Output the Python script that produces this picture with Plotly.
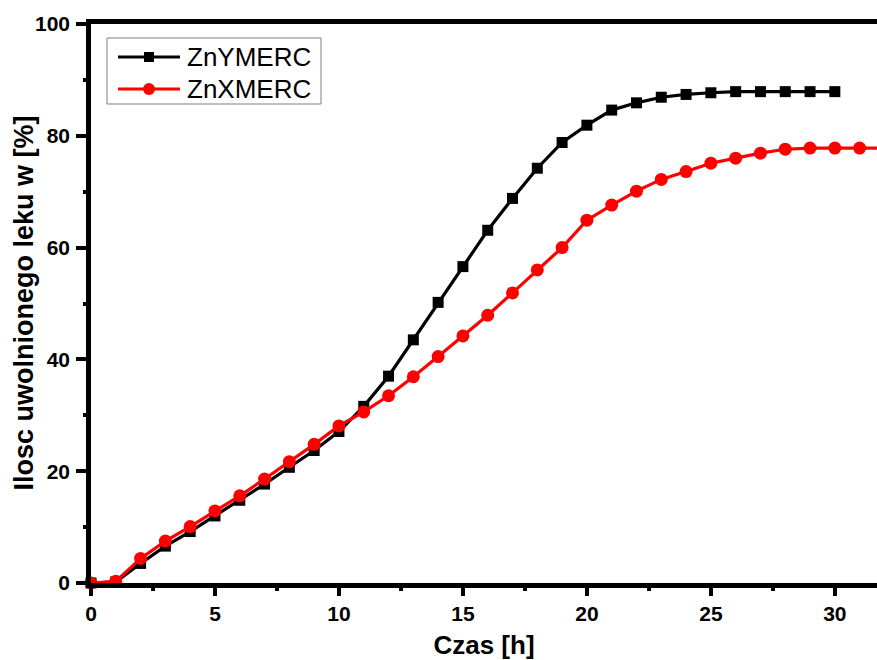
import plotly.graph_objects as go

# Release time [h]
hours_y = list(range(0, 31))
hours_x = list(range(0, 33))

# Cumulative drug release [%]
znymerc = [0, 0.2, 3.5, 6.6, 9.2, 12.0, 14.8, 17.7, 20.7, 23.7,
           27.1, 31.6, 37.0, 43.5, 50.2, 56.6, 63.1, 68.8, 74.2, 78.8,
           81.9, 84.6, 85.9, 86.9, 87.4, 87.7, 87.9, 87.9, 87.9, 87.9, 87.9]
znxmerc = [0, 0.3, 4.4, 7.5, 10.1, 12.9, 15.6, 18.6, 21.7, 24.8,
           28.1, 30.6, 33.5, 36.9, 40.5, 44.2, 47.9, 51.9, 56.0, 60.0,
           64.9, 67.6, 70.1, 72.2, 73.6, 75.1, 76.0, 76.9, 77.6, 77.8,
           77.8, 77.8, 77.8]

series_names = ["ZnYMERC", "ZnXMERC"]
series_colors = ["#000000", "#ff0000"]
x_title = "Czas [h]"
y_title = "Ilosc uwolnionego leku w [%]"

FONT = "Arial, 'Liberation Sans', sans-serif"

fig = go.Figure()
fig.add_trace(go.Scatter(
    x=hours_y, y=znymerc, name=series_names[0], mode="lines+markers",
    line=dict(color=series_colors[0], width=3.2),
    marker=dict(symbol="square", size=11, color=series_colors[0]),
    cliponaxis=False, showlegend=False,
))
fig.add_trace(go.Scatter(
    x=hours_x, y=znxmerc, name=series_names[1], mode="lines+markers",
    line=dict(color=series_colors[1], width=3.2),
    marker=dict(symbol="circle", size=13, color=series_colors[1]),
    cliponaxis=False, showlegend=False,
))

# Legend drawn inside the plot, upper-left
W, H = 786.0, 559.0  # plot area in px
def px(xp):
    return (xp - 91) / W
def py(yp):
    return (583 - yp) / H

shapes = [
    dict(type="rect", xref="paper", yref="paper",
         x0=px(107), x1=px(321), y0=py(104), y1=py(38),
         line=dict(color="#7f7f7f", width=1), fillcolor="white", layer="above"),
]
annotations = []
rows = [57, 89]
for i, (name, col) in enumerate(zip(series_names, series_colors)):
    yc = py(rows[i])
    shapes.append(dict(type="line", xref="paper", yref="paper",
                       x0=px(118), x1=px(180), y0=yc, y1=yc,
                       line=dict(color=col, width=3.2), layer="above"))
    if i == 0:
        shapes.append(dict(type="rect", xref="paper", yref="paper",
                           xsizemode="pixel", ysizemode="pixel",
                           xanchor=px(149), yanchor=yc,
                           x0=-5, x1=5, y0=-5, y1=5,
                           line=dict(width=0), fillcolor=col, layer="above"))
    else:
        shapes.append(dict(type="circle", xref="paper", yref="paper",
                           xsizemode="pixel", ysizemode="pixel",
                           xanchor=px(149), yanchor=yc,
                           x0=-6, x1=6, y0=-6, y1=6,
                           line=dict(width=0), fillcolor=col, layer="above"))
    annotations.append(dict(xref="paper", yref="paper", x=px(185), y=yc,
                            xanchor="left", yanchor="middle", showarrow=False,
                            text=name, font=dict(family=FONT, size=26, color="black")))

# Vertical axis title
annotations.append(dict(xref="paper", yref="paper", x=px(23), y=0.5,
                        xanchor="center", yanchor="middle", showarrow=False,
                        textangle=-90, text=y_title,
                        font=dict(family=FONT, size=27, weight="bold", color="black")))

fig.update_layout(
    width=877, height=660,
    margin=dict(l=91, r=0, t=24, b=77),
    plot_bgcolor="white", paper_bgcolor="white",
    font=dict(family=FONT, color="black"),
    shapes=shapes, annotations=annotations,
    xaxis=dict(
        range=[0, 31.7], showgrid=False, zeroline=False,
        showline=True, linecolor="black", linewidth=4.5, mirror=True,
        ticks="outside", ticklen=8, tickwidth=3.5, tickcolor="black",
        tick0=0, dtick=5,
        minor=dict(ticks="outside", ticklen=3, tickwidth=3.5, tickcolor="black", dtick=2.5),
        tickfont=dict(family=FONT, size=21, weight="bold"),
        title=dict(text=x_title, font=dict(family=FONT, size=26, weight="bold"), standoff=14),
    ),
    yaxis=dict(
        range=[0, 100], showgrid=False, zeroline=False,
        showline=True, linecolor="black", linewidth=4.5, mirror=False,
        ticks="outside", ticklen=10, tickwidth=3.5, tickcolor="black",
        tick0=0, dtick=20,
        minor=dict(ticks="outside", ticklen=3, tickwidth=3.5, tickcolor="black", dtick=10),
        tickfont=dict(family=FONT, size=21, weight="bold"),
        ticklabelstandoff=2,
    ),
)

fig.write_html("out.html")
